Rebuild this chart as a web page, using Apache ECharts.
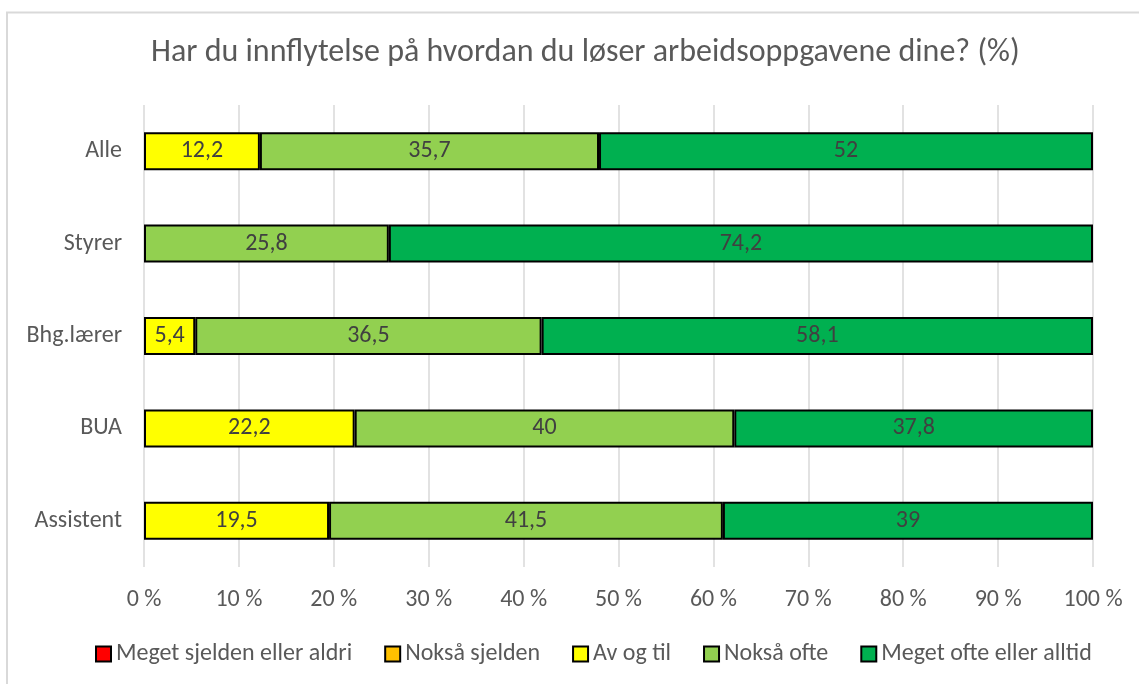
<!DOCTYPE html>
<html>
<head>
<meta charset="utf-8">
<script src="https://cdn.jsdelivr.net/npm/echarts@6/dist/echarts.min.js"></script>
<style>
html,body{margin:0;padding:0;background:#fff;}
#c{width:1139px;height:684px;}
</style>
</head>
<body>
<div id="c"></div>
<script>
const categories = ['Alle', 'Styrer', 'Bhg.lærer', 'BUA', 'Assistent'];
const seriesNames = ['Meget sjelden eller aldri', 'Nokså sjelden', 'Av og til', 'Nokså ofte', 'Meget ofte eller alltid'];
const meget_sjelden = [0, 0, 0, 0, 0];
const noksa_sjelden = [0, 0, 0, 0, 0];
const av_og_til = [12.2, 0, 5.4, 22.2, 19.5];
const noksa_ofte = [35.7, 25.8, 36.5, 40, 41.5];
const meget_ofte = [52, 74.2, 58.1, 37.8, 39];
const colors = ['#FF0000', '#FFC000', '#FFFF00', '#92D050', '#00B050'];
const tickLabels = ['0 %', '10 %', '20 %', '30 %', '40 %', '50 %', '60 %', '70 %', '80 %', '90 %', '100 %'];

const all = [meget_sjelden, noksa_sjelden, av_og_til, noksa_ofte, meget_ofte];
const totals = categories.map((_, i) => all.reduce((s, a) => s + a[i], 0));
const FONT = 'Carlito, Calibri, "Liberation Sans", sans-serif';

const series = all.map((arr, si) => ({
  name: seriesNames[si],
  type: 'bar',
  stack: 'total',
  barWidth: 38,
  itemStyle: { color: colors[si], borderColor: '#000', borderWidth: 2 },
  label: {
    show: true,
    position: 'inside',
    color: '#404040',
    fontSize: 24,
    fontFamily: FONT,
    formatter: p => p.data.raw ? String(p.data.raw).replace('.', ',') : ''
  },
  data: arr.map((v, i) => v ? { value: v / totals[i] * 100, raw: v } : { value: '-', raw: 0 })
}));

const chart = echarts.init(document.getElementById('c'));
chart.setOption({
  animation: false,
  title: {
    text: 'Har du innflytelse på hvordan du løser arbeidsoppgavene dine? (%)',
    left: 146,
    top: 32,
    textStyle: { color: '#595959', fontSize: 32, fontWeight: 'normal', fontFamily: FONT }
  },
  legend: {
    bottom: 13,
    left: 90,
    itemWidth: 15,
    itemHeight: 15,
    itemGap: 32,
    icon: 'rect',
    textStyle: { color: '#595959', fontSize: 24, fontFamily: FONT, padding: [0, 0, 0, 0] },
    itemStyle: { borderColor: '#000', borderWidth: 2 },
    data: seriesNames
  },
  grid: { left: 144, right: 46, top: 105, bottom: 117, containLabel: false },
  xAxis: {
    type: 'value',
    min: 0, max: 100, interval: 10,
    axisLine: { show: false },
    axisTick: { show: false },
    splitLine: { show: true, lineStyle: { color: '#d9d9d9', width: 1.5 } },
    axisLabel: {
      color: '#595959', fontSize: 24, fontFamily: FONT, margin: 21,
      formatter: v => tickLabels[Math.round(v / 10)]
    }
  },
  yAxis: {
    type: 'category',
    inverse: true,
    data: categories,
    axisLine: { show: false },
    axisTick: { show: false },
    axisLabel: { color: '#595959', fontSize: 24, fontFamily: FONT, margin: 22 }
  },
  graphic: [{
    type: 'polyline',
    shape: { points: [[7, 684], [7, 12.5], [1139, 12.5]] },
    style: { stroke: '#d9d9d9', lineWidth: 2, fill: null }
  }],
  series: series
});
</script>
</body>
</html>
